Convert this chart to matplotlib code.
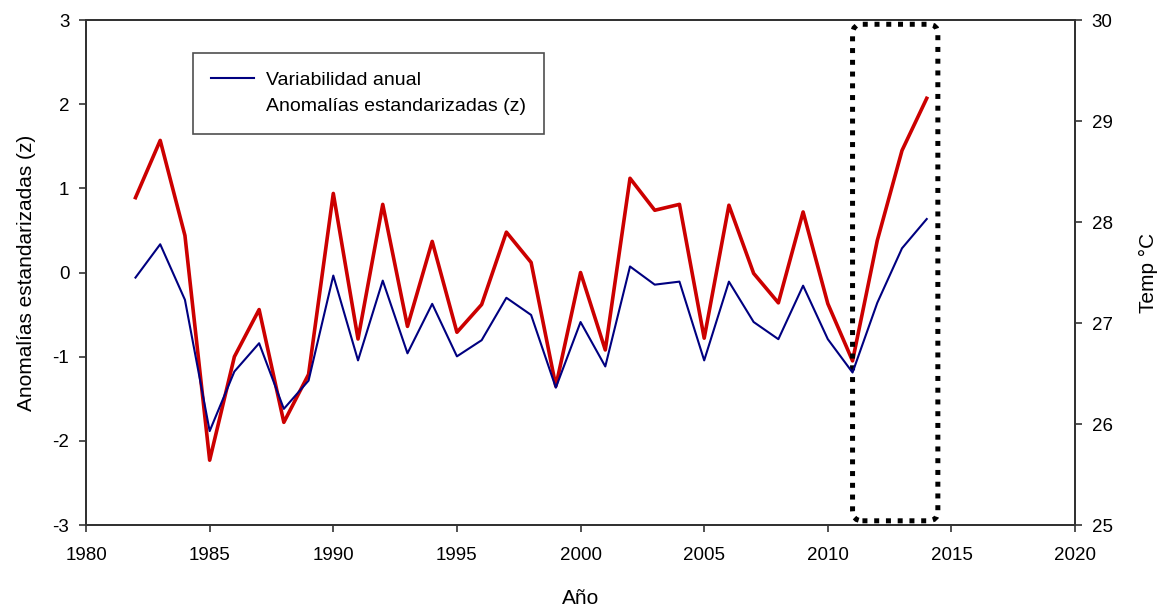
import matplotlib.pyplot as plt
from matplotlib.lines import Line2D
from matplotlib.patches import FancyBboxPatch

plt.rcParams['font.family'] = ['Liberation Sans', 'DejaVu Sans']
plt.rcParams['axes.unicode_minus'] = False

# Annual series 1982-2014
years = list(range(1982, 2015))

# Standardized anomalies (z), left axis
anomalia_z = [0.89, 1.57, 0.44, -2.23, -1.00, -0.44, -1.78, -1.21, 0.94, -0.79,
              0.81, -0.64, 0.37, -0.71, -0.38, 0.48, 0.12, -1.35, 0.00, -0.92,
              1.12, 0.74, 0.81, -0.78, 0.80, -0.01, -0.36, 0.72, -0.37, -1.05,
              0.38, 1.45, 2.07]

# Annual mean temperature (°C), right axis
temp = [27.45, 27.78, 27.23, 25.93, 26.52, 26.80, 26.15, 26.43, 27.47, 26.63,
        27.42, 26.70, 27.19, 26.67, 26.83, 27.25, 27.08, 26.36, 27.01, 26.57,
        27.56, 27.38, 27.41, 26.63, 27.41, 27.01, 26.84, 27.37, 26.84, 26.51,
        27.20, 27.74, 28.03]

fig, ax = plt.subplots(figsize=(11.61, 6.08), dpi=100)
fig.subplots_adjust(left=0.0741, right=0.926, top=0.967, bottom=0.1365)
ax2 = ax.twinx()

ax.plot(years, anomalia_z, color="#cc0000", lw=2.6, zorder=3)
ax2.plot(years, temp, color="#000080", lw=1.5, zorder=3)

ax.set_xlim(1980, 2020)
ax.set_ylim(-3, 3)
ax2.set_ylim(25, 30)
ax.set_xticks(range(1980, 2021, 5))
ax.set_yticks(range(-3, 4))
ax2.set_yticks(range(25, 31))

for a in (ax, ax2):
    for s in a.spines.values():
        s.set_color("#333333")
        s.set_linewidth(1.4)
    a.tick_params(direction="out", length=5, width=1.2, color="#333333",
                  labelsize=13.5, pad=7)
ax.tick_params(axis="x", pad=11)

ax.set_ylabel("Anomalías estandarizadas (z)", fontsize=15, labelpad=12)
ax2.set_ylabel("Temp °C", fontsize=15, labelpad=19)
ax.set_xlabel("Año", fontsize=15, labelpad=18)

# dotted highlight around the last years
box = FancyBboxPatch((2011.0, -2.95), 3.45, 5.9,
                     boxstyle="round,pad=0,rounding_size=0.4",
                     mutation_aspect=1.0 / 3.5,
                     fill=False, edgecolor="black", lw=3.6,
                     linestyle=(0, (1, 1.35)), zorder=4, clip_on=False)
ax.add_patch(box)

handles = [Line2D([], [], color="#000080", lw=1.5),
           Line2D([], [], color="none", lw=1.5)]
leg = ax.legend(handles, ["Variabilidad anual", "Anomalías estandarizadas (z)"],
                loc="upper left", bbox_to_anchor=(0.108, 0.935),
                fontsize=14, frameon=True, fancybox=False, handlelength=2.2,
                borderpad=0.95, labelspacing=0.45, handletextpad=0.6,
                borderaxespad=0)
leg.get_frame().set_edgecolor("#222222")
leg.get_frame().set_linewidth(1.2)

plt.savefig("out.png", dpi=100)
